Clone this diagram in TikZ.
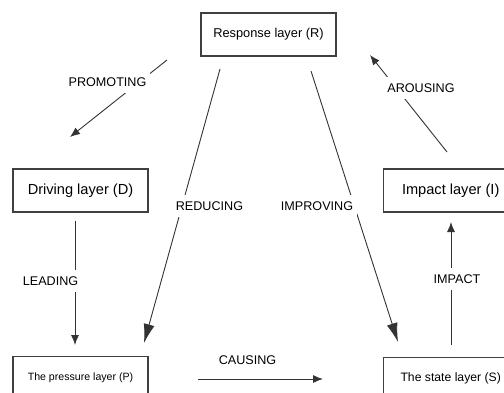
\documentclass[tikz,border=0pt]{standalone}
\usepackage{fontspec}
\setmainfont{Liberation Sans}
\usetikzlibrary{positioning, arrows.meta}
\colorlet{lineclr}{black!80}
\colorlet{boxclr}{black!75}
\tikzset{
  >=Latex, % filled arrow heads
  layer/.style={draw=boxclr,line width=1.2pt,minimum width=135pt,minimum height=43pt,inner sep=0pt},
  conn/.style={-{Latex[length=10pt,width=8pt]},line width=0.9pt,lineclr},
  conn big/.style={-{Latex[length=19pt,width=11pt]},line width=0.9pt,lineclr},
  lbl/.style={fill=white,inner xsep=4pt,inner ysep=7pt,font=\fontsize{12.6}{15}\selectfont}
}

\begin{document}
\begin{tikzpicture}[x=1pt, y=-1pt]

  \useasboundingbox (0,0) rectangle (504,392);
  \clip (0,0) rectangle (504,392);

  % Layers
  \node[layer, font=\fontsize{12.8}{15}\selectfont] (R) at (268.5,34.5) {Response layer (R)};
  \node[layer, font=\fontsize{14.6}{17}\selectfont] (D) at (80.5,190.5) {Driving layer (D)};
  \node[layer, font=\fontsize{14.6}{17}\selectfont, right=234pt of D] (I) {Impact layer (I)};
  \node[layer, font=\fontsize{10.6}{13}\selectfont, below=143pt of D] (P) {The pressure layer (P)};
  \node[layer, font=\fontsize{12.2}{15}\selectfont, below=144pt of I] (S) {The state layer (S)};

  % Free ends of the connectors
  \coordinate (promA) at (167,60);  \coordinate (promB) at (70,137);
  \coordinate (arouA) at (447,152); \coordinate (arouB) at (370,55);
  \coordinate (reduA) at (220,69);  \coordinate (reduB) at (144,343);
  \coordinate (imprA) at (311,71);  \coordinate (imprB) at (398,342);
  \coordinate (leadA) at (75,221);  \coordinate (leadB) at (75,345);
  \coordinate (impaA) at (451,345); \coordinate (impaB) at (451,222);
  \coordinate (causA) at (198,379); \coordinate (causB) at (323,379);

  % Response -> Driving, Impact -> Response
  \draw[conn] (promA) -- (promB);
  \node[lbl] (promL) at (107.5,82) {PROMOTING};
  \draw[conn] (arouA) -- (arouB);
  \node[lbl] (arouL) at (421,88) {AROUSING};

  % Response -> Pressure / State
  \draw[conn big] (reduA) -- (reduB);
  \node[lbl] (reduL) at (209.5,206) {REDUCING};
  \draw[conn big] (imprA) -- (imprB);
  \node[lbl] (imprL) at (317,206) {IMPROVING};

  % Driving -> Pressure -> State -> Impact
  \draw[conn] (leadA) -- (leadB);
  \node[lbl] (leadL) at (50.5,281) {LEADING};
  \draw[conn] (causA) -- (causB);
  \node[lbl] (causL) at (247.5,360.5) {CAUSING};
  \draw[conn] (impaA) -- (impaB);
  \node[lbl] (impaL) at (457,279) {IMPACT};

\end{tikzpicture}
\end{document}
